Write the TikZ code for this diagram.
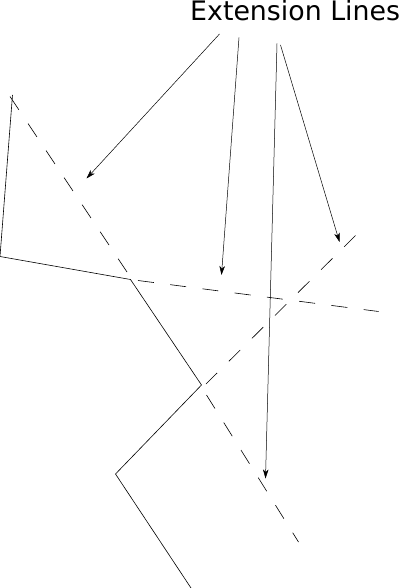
\documentclass[tikz,border=0pt]{standalone}
\usepackage{fontspec}
\setmainfont{DejaVu Sans}
\usetikzlibrary{arrows.meta}

\begin{document}
\begin{tikzpicture}[->,thin,>={Stealth[length=9pt,width=5.5pt,inset=2.5pt]},x=1pt,y=-1pt]
    \tikzstyle{part}=[-,line width=0.6pt,black]
    \tikzstyle{ext}=[-,line width=0.6pt,black,dash pattern=on 16pt off 16.5pt]
    \tikzstyle{pointer}=[->,line width=0.5pt,black]
    \tikzstyle{title}=[inner sep=0pt,anchor=base west,font=\fontsize{26.8}{30}\selectfont]

    \useasboundingbox (0,0) rectangle (400,588);

    % corners of the part
    \coordinate (p1) at (12.5,95);
    \coordinate (p2) at (0,256.5);
    \coordinate (p3) at (130.5,279.5);
    \coordinate (p4) at (201.5,385);
    \coordinate (p5) at (115.5,474);
    \coordinate (p6) at (191,588);

    % ends of the extension lines
    \coordinate (e1a) at (10,96.5);
    \coordinate (e1b) at (127,272);
    \coordinate (e2a) at (138,280.5);
    \coordinate (e2b) at (378.5,311.5);
    \coordinate (e3a) at (355.5,235.5);
    \coordinate (e3b) at (206,384);
    \coordinate (e4a) at (206.5,395);
    \coordinate (e4b) at (298.5,542);

    \node[title] (lbl) at (190,20.5) {Extension Lines};

    % arrow tails below the label
    \coordinate (t1) at (219.5,34);
    \coordinate (t2) at (239,37.5);
    \coordinate (t3) at (277,43.5);
    \coordinate (t4) at (280.5,45);
    % arrow tips on the extension lines
    \coordinate (h1) at (86.5,178.5);
    \coordinate (h2) at (221.5,275);
    \coordinate (h3) at (265.5,478.5);
    \coordinate (h4) at (339.5,242);

    \draw[part] (p1) -- (p2) -- (p3) -- (p4) -- (p5) -- (p6);

    \draw[ext] (e1a) -- (e1b);
    \draw[ext] (e2a) -- (e2b);
    \draw[ext] (e3a) -- (e3b);
    \draw[ext] (e4a) -- (e4b);

    \path
     (t1) edge[pointer] (h1)
     (t2) edge[pointer] (h2)
     (t3) edge[pointer] (h3)
     (t4) edge[pointer] (h4)
     ;
\end{tikzpicture}
\end{document}
